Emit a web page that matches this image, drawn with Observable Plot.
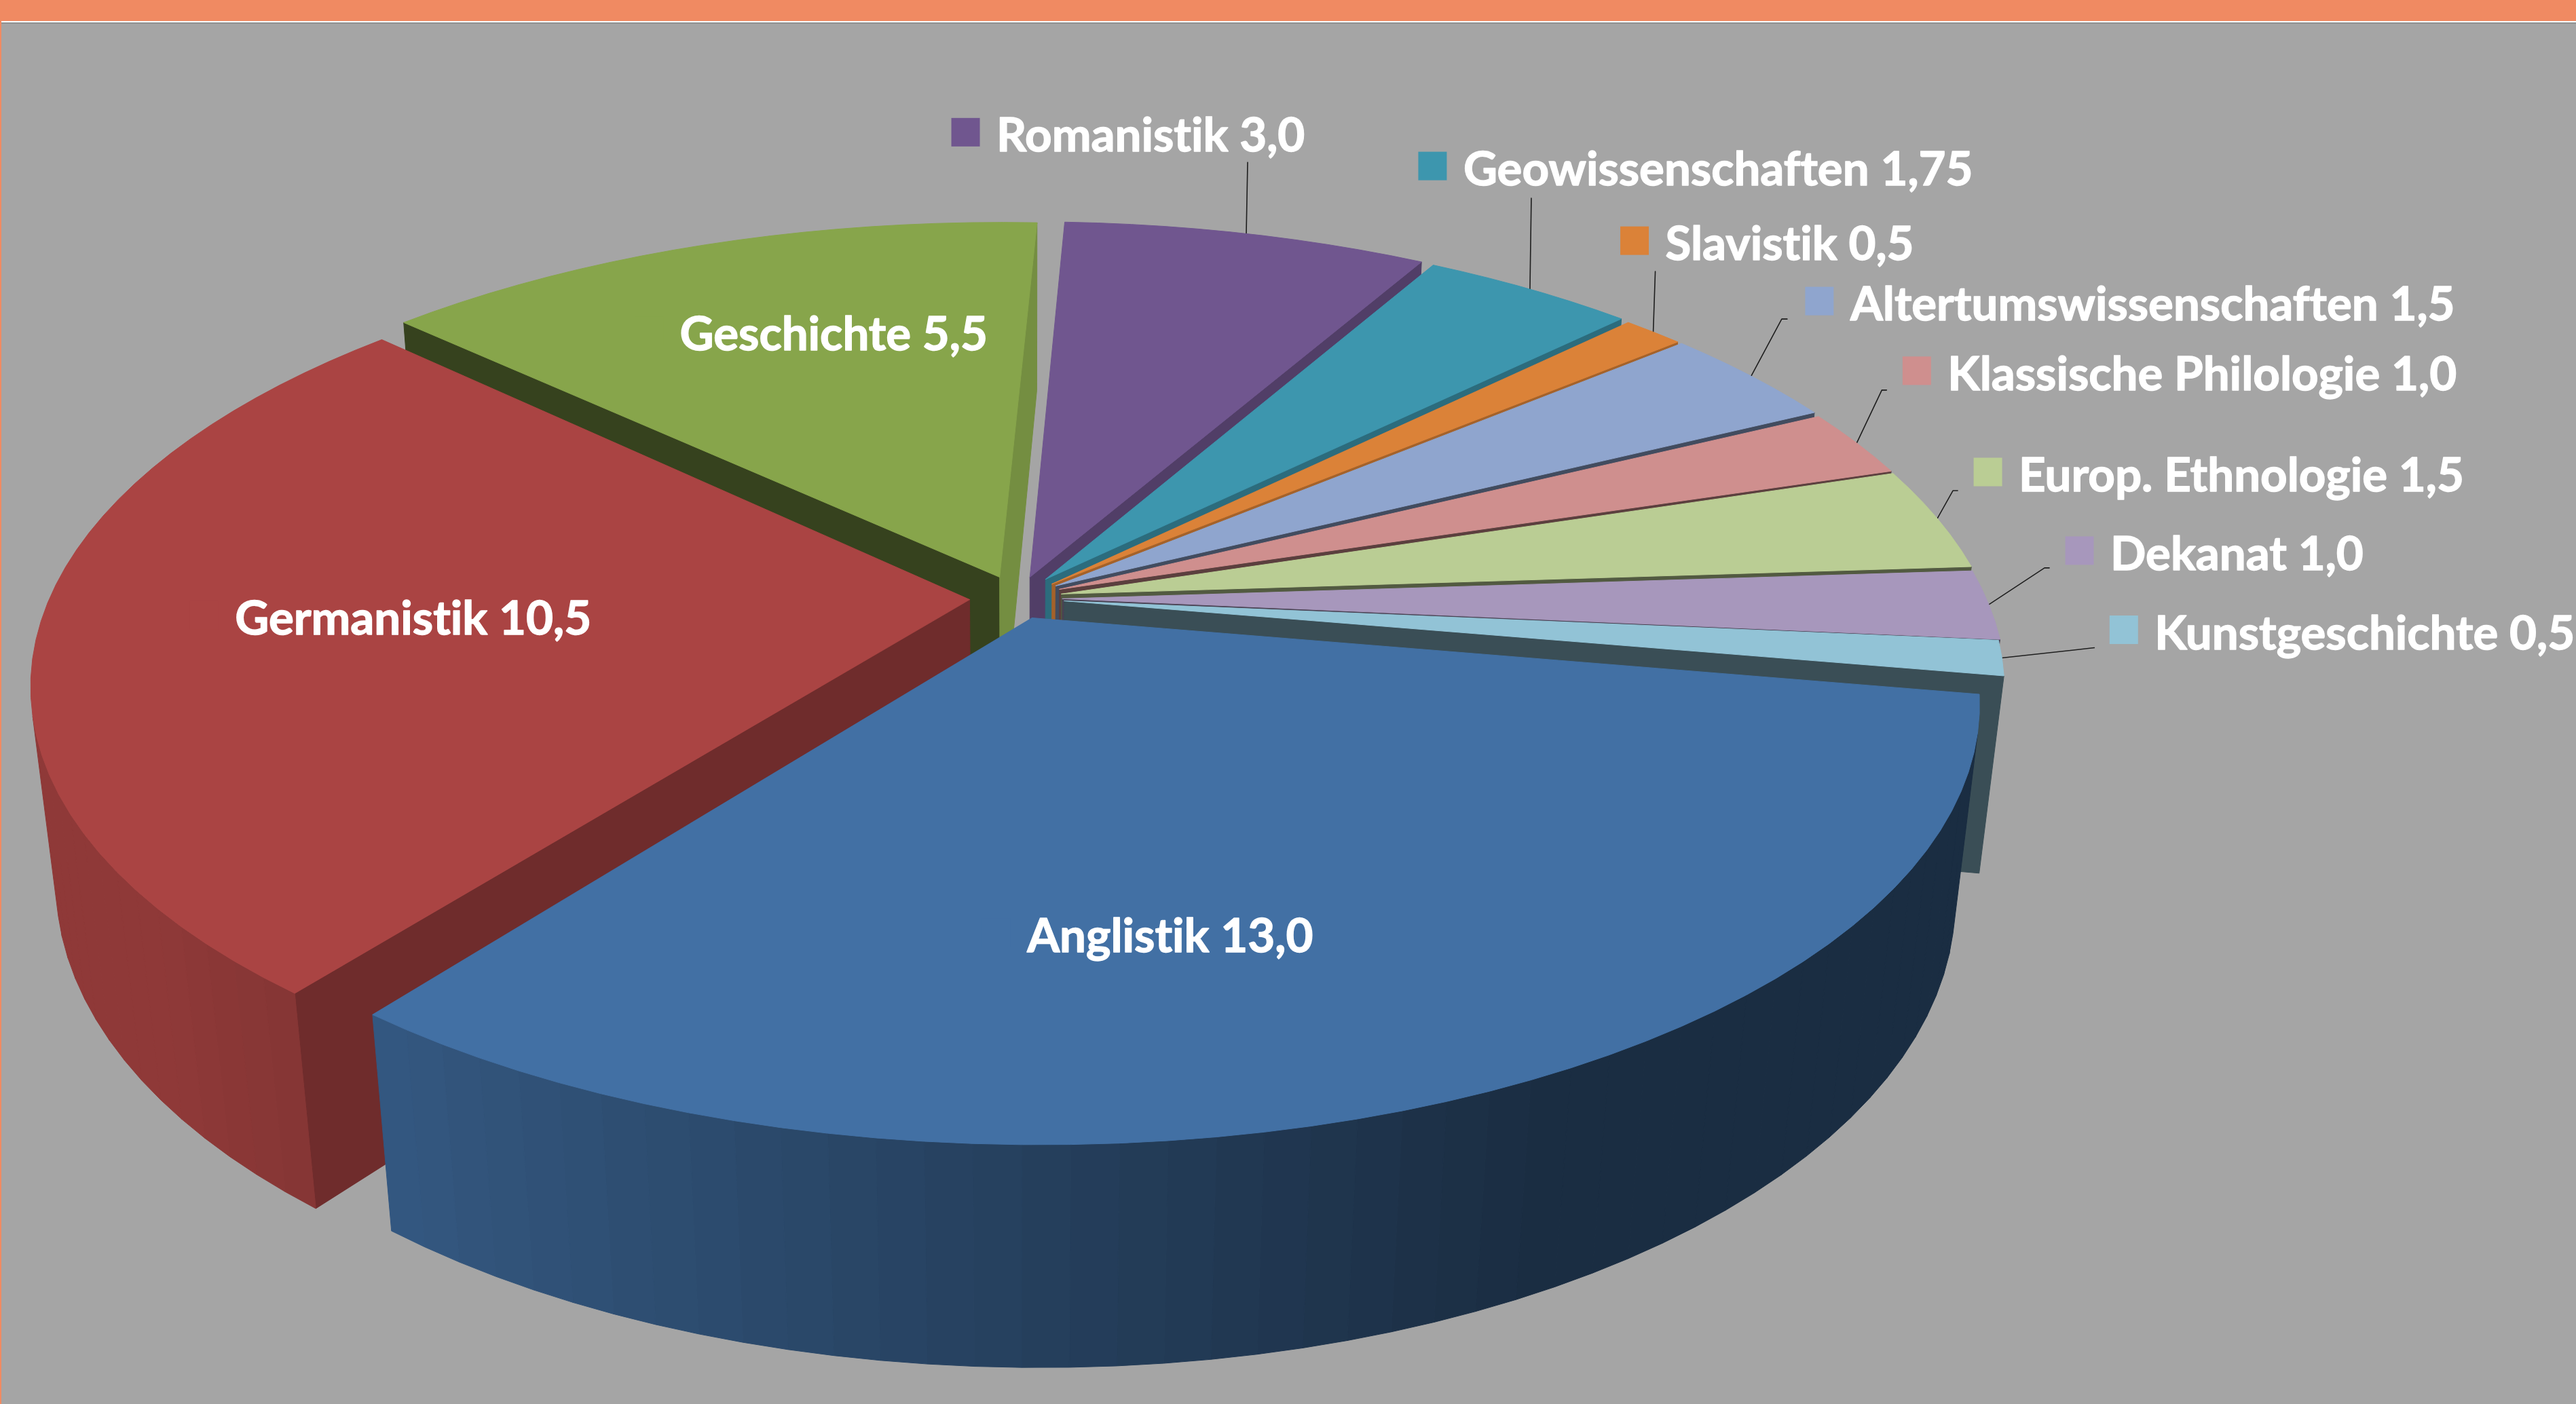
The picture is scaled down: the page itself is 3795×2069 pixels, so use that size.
<!DOCTYPE html>
<html lang="de">
<head>
<meta charset="utf-8">
<title>Stellen nach Fächern</title>
<style>
html,body{margin:0;padding:0;background:#A5A5A5;overflow:hidden}
svg{display:block}
svg text{font-variant-ligatures:none}
</style>
<script src="https://cdn.jsdelivr.net/npm/d3@7"></script>
<script src="https://cdn.jsdelivr.net/npm/@observablehq/plot@0.6"></script>
</head>
<body>
<div id="chart"></div>
<script>
// ---- data ----
const departments = ["Anglistik","Germanistik","Geschichte","Romanistik","Geowissenschaften","Slavistik","Altertumswissenschaften","Klassische Philologie","Europ. Ethnologie","Dekanat","Kunstgeschichte"];
const values = [13.0,10.5,5.5,3.0,1.75,0.5,1.5,1.0,1.5,1.0,0.5];
const colors = ["#4270A4","#AA4443","#87A54B","#70568F","#3D96AE","#DB8238","#8FA5CE","#CF8F8E","#BACD94","#A797BC","#92C3D6"];

// ---- 3D view: perspective and per-slice explosion ----
const W = 3795, H = 2069;
const view = {cx:1510, cy:866, R:1360, k:0.4629, p:0.197, q:0.025, depth:290, startAngle:10};
const sliceShift = [[0.0072,0.069],[-0.06,0.027],[-0.028,-0.0255],[0.005,-0.0255],[0.022,-0.0205],[0.029,-0.0095],[0.033,-0.005],[0.037,0.003],[0.039,0.014],[0.04,0.025],[0.042,0.03]];
const rimNudge = [[0.006,0],[0.001,-0.0105],[-0.003,0],[0,0],[0,0],[0,0],[0,0],[-0.001,0.003],[-0.002,-0.002],[-0.004,-0.003],[-0.008,-0.006]];
const radiusX = [0.987,0.993,1.004,1.006,1,1,1,1,1,1,1];
const radiusY = [0.968,0.99,1.004,1.006,1,1,1,1,1,1,1];
const startWallShade = [0,0.65,0.40,0,0,0,0,0,0,0,0];
const endWallShade = [0,0,0.86,0.72,0.72,0.75,0.46,0.44,0.44,0.44,0.40];

// label layout: [dx,dy] from each slice's rim point
const keyOffset = [[-663,-248],[245,-22],[-83,127],[-413,-149],[-143,-181],[-27,-134],[101,-110],[89,-106],[75,-68],[134,-79],[180,-41]];
const leaderBend = [null,null,null,[2,-105],[2,-134],[3,-89],[45,-84],[37,-78],[23,-41],[82,-54],[136,-15]];
const leaderEnd = [null,null,null,null,null,null,[53,-84],[44,-78],[30,-41],[89,-54],null];
const keySize = 42, keyGap = 45;

const rad = d => d*Math.PI/180;
function project(X,Y,z){
  const s = 1/(1 - view.p*Y + view.q*z);
  return [view.cx + view.R*X*s, view.cy + (view.R*view.k*Y + view.depth*z)*s];
}
const total = d3.sum(values);
let acc = view.startAngle;
const slices = values.map((v,i)=>{
  const a0 = acc, a1 = acc + v/total*360; acc = a1;
  const [ox,oy] = sliceShift[i], [nx,ny] = rimNudge[i];
  const rim = (a,z)=>project(ox+nx+radiusX[i]*Math.cos(rad(a)), oy+ny+radiusY[i]*Math.sin(rad(a)), z);
  const apex = z=>project(ox,oy,z);
  return {i,name:departments[i],value:v,color:colors[i],a0,a1,mid:(a0+a1)/2,rim,apex,order:Math.sin(rad((a0+a1)/2))};
});
const shade = (c,f)=>{const o=d3.rgb(c);return d3.rgb(o.r*f,o.g*f,o.b*f).formatHex();};
const area = pts => d3.sum(pts,(p,j)=>{const q=pts[(j+1)%pts.length];return p[0]*q[1]-q[0]*p[1];});

// polygons painted back to front
const rows = [];
let pid = 0;
const addPoly = (pts,color)=>{
  pid++;
  [...pts,pts[0]].forEach(p=>rows.push({poly:pid,x:p[0],y:p[1],color}));
};
slices.slice().sort((a,b)=>a.order-b.order).forEach(s=>{
  const startWall=[s.apex(0),s.rim(s.a0,0),s.rim(s.a0,1),s.apex(1)];
  const endWall=[s.apex(0),s.rim(s.a1,0),s.rim(s.a1,1),s.apex(1)];
  if(area(startWall)<0 && startWallShade[s.i]>0) addPoly(startWall,shade(s.color,startWallShade[s.i]));
  if(area(endWall)>0 && endWallShade[s.i]>0) addPoly(endWall,shade(s.color,endWallShade[s.i]));
  const steps=Math.max(2,Math.ceil((s.a1-s.a0)/2.5));
  for(let j=0;j<steps;j++){
    const a=s.a0+(s.a1-s.a0)*j/steps,b=s.a0+(s.a1-s.a0)*(j+1)/steps;
    const facet=[s.rim(a,0),s.rim(b,0),s.rim(b,1),s.rim(a,1)];
    if(area(facet)<0){
      const f=Math.min(0.84,Math.max(0.40,0.564-0.36*Math.cos(rad((a+b)/2))));
      addPoly(facet,shade(s.color,f));
    }
  }
  const top=[s.apex(0)];
  for(let j=0;j<=steps;j++) top.push(s.rim(s.a0+(s.a1-s.a0)*j/steps,0));
  addPoly(top,s.color);
});

// labels, keys, leaders
const fmt = v => String(Number.isInteger(v)||Number.isInteger(v*2)?v.toFixed(1):v).replace(".",",");
const keys = slices.map(s=>{
  const [rx,ry]=s.rim(s.mid,0),[dx,dy]=keyOffset[s.i];
  return {x:rx+dx,y:ry+dy,color:s.color,label:`${s.name} ${fmt(s.value)}`};
});
const leaders = [];
slices.forEach(s=>{
  const b=leaderBend[s.i]; if(!b) return;
  const [rx,ry]=s.rim(s.mid,0);
  leaders.push({id:s.i,x:rx,y:ry},{id:s.i,x:rx+b[0],y:ry+b[1]});
  const e=leaderEnd[s.i];
  if(e) leaders.push({id:s.i,x:rx+e[0],y:ry+e[1]});
});

const band = [{x1:0,x2:W,y1:0,y2:31,c:"#F08A62"},{x1:0,x2:2,y1:0,y2:H,c:"#F08A62"},{x1:2,x2:W,y1:31,y2:33,c:"#FFFFFF"},{x1:2,x2:W,y1:33,y2:35,c:"#909090"}];

const chart = Plot.plot({
  width:W,height:H,margin:0,
  style:{background:"#A5A5A5"},
  x:{domain:[0,W],range:[0,W],axis:null},
  y:{domain:[0,H],range:[0,H],axis:null},
  color:{type:"identity"},
  marks:[
    Plot.rect(band,{x1:"x1",x2:"x2",y1:"y1",y2:"y2",fill:d=>d.c}),
    Plot.line(leaders,{x:"x",y:"y",z:"id",stroke:"#1e1e1e",strokeWidth:1.6,curve:"linear"}),
    Plot.line(rows,{x:"x",y:"y",z:"poly",fill:d=>d.color,stroke:d=>d.color,strokeWidth:1,curve:"linear"}),
    Plot.rect(keys,{x1:d=>d.x-keySize/2,x2:d=>d.x+keySize/2,y1:d=>d.y-keySize/2,y2:d=>d.y+keySize/2,fill:d=>d.color}),
    Plot.text(keys,{x:d=>d.x+keyGap,y:d=>d.y+6,text:"label",textAnchor:"start",lineAnchor:"middle",fill:"#FFFFFF",stroke:"#FFFFFF",strokeWidth:1.4,fontFamily:"Lato",fontWeight:700,fontSize:69})
  ]
});
document.getElementById("chart").append(chart);
</script>
</body>
</html>
